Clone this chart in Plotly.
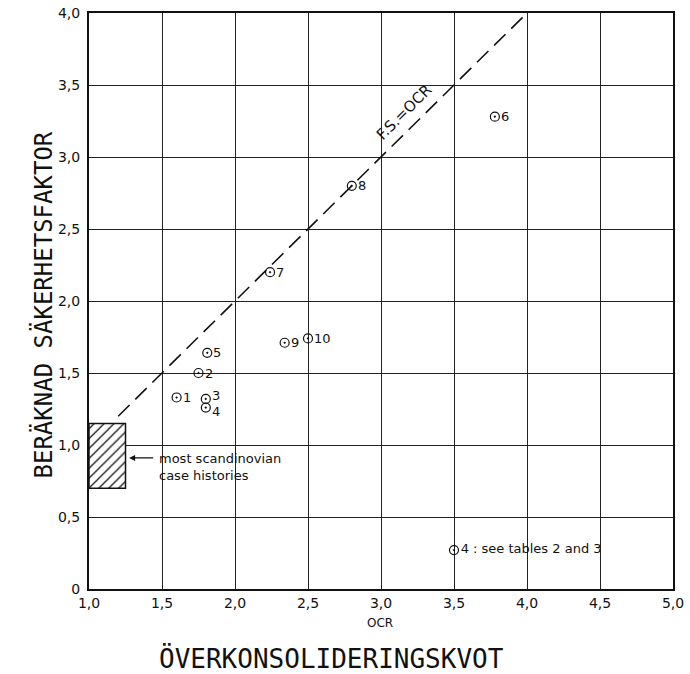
import plotly.graph_objects as go

# data
ocr = [1.6, 1.75, 1.8, 1.8, 1.81, 3.78, 2.24, 2.8, 2.34, 2.5]
fs = [1.33, 1.5, 1.32, 1.26, 1.64, 3.28, 2.2, 2.8, 1.71, 1.74]
labels = ["1", "2", "3", "4", "5", "6", "7", "8", "9", "10"]
line_x = [1.2, 4.0]
line_y = [1.2, 4.0]
box_x = [1.0, 1.25, 1.25, 1.0, 1.0]
box_y = [0.7, 0.7, 1.15, 1.15, 0.7]
legend_pt = [3.5, 0.27]
xticks = [1.0, 1.5, 2.0, 2.5, 3.0, 3.5, 4.0, 4.5, 5.0]
xticktext = ["1,0", "1,5", "2,0", "2,5", "3,0", "3,5", "4,0", "4,5", "5,0"]
yticks = [0, 0.5, 1.0, 1.5, 2.0, 2.5, 3.0, 3.5, 4.0]
yticktext = ["0", "0,5", "1,0", "1,5", "2,0", "2,5", "3,0", "3,5", "4,0"]

tick_font = dict(family="DejaVu Sans", size=14, color="#111")
lab_font = dict(family="DejaVu Sans", size=13, color="#111")
mono = "DejaVu Sans Mono"

fig = go.Figure()

fig.add_trace(go.Scatter(
    x=box_x, y=box_y, mode="lines", fill="toself",
    fillcolor="white",
    fillpattern=dict(shape="/", fgcolor="#111", fgopacity=1, bgcolor="white", size=7, solidity=0.18),
    line=dict(color="#111", width=1.5), hoverinfo="skip", showlegend=False))

fig.add_trace(go.Scatter(
    x=line_x, y=line_y, mode="lines",
    line=dict(color="#111", width=1.6, dash="16px,8px"),
    showlegend=False))

fig.add_trace(go.Scatter(
    x=ocr, y=fs, mode="markers",
    marker=dict(symbol="circle-open-dot", size=9, color="#111", line=dict(width=1.2, color="#111")),
    showlegend=False))

fig.add_trace(go.Scatter(
    x=[legend_pt[0]], y=[legend_pt[1]], mode="markers+text",
    text=["4 : see tables 2 and 3"], textposition="middle right",
    textfont=dict(family="DejaVu Sans", size=13, color="#111"),
    marker=dict(symbol="circle-open-dot", size=9, color="#111", line=dict(width=1.2, color="#111")),
    showlegend=False))

annotations = []
for xv, yv, lab in zip(ocr, fs, labels):
    ys = 0
    if lab == "3":
        ys = 3
    elif lab == "4":
        ys = -4
    annotations.append(dict(x=xv, y=yv, xref="x", yref="y", text=lab, showarrow=False,
                            xanchor="left", yanchor="middle", xshift=4, yshift=ys,
                            font=lab_font))

annotations += [
    dict(x=3.16, y=3.31, xref="x", yref="y", text="F.S.=OCR", showarrow=False,
         textangle=-45, font=dict(family="DejaVu Sans", size=15, color="#111")),
    dict(x=1.275, y=0.91, ax=1.45, ay=0.91, xref="x", yref="y", axref="x", ayref="y",
         text="", showarrow=True, arrowhead=2, arrowsize=1, arrowwidth=1.2, arrowcolor="#111"),
    dict(x=1.465, y=0.85, xref="x", yref="y", text="most scandinovian<br>case histories",
         showarrow=False, xanchor="left", align="left",
         font=dict(family="DejaVu Sans", size=13, color="#111")),
    dict(x=(380 - 89) / 584, y=-(623 - 589) / 576, xref="paper", yref="paper", text="OCR",
         showarrow=False, yanchor="middle", font=dict(family="DejaVu Sans", size=12, color="#111")),
    dict(x=(331 - 89) / 584, y=-(658 - 589) / 576, xref="paper", yref="paper",
         text="ÖVERKONSOLIDERINGSKVOT", showarrow=False, yanchor="middle",
         font=dict(family=mono, size=26, color="#111")),
    dict(x=(26 - 89) / 584, y=(589 - 305) / 576, xref="paper", yref="paper",
         text="BERÄKNAD SÄKERHETSFAKTOR", showarrow=False, textangle=-90,
         font=dict(family=mono, size=24, color="#111")),
]

fig.update_layout(
    width=690, height=674,
    margin=dict(l=89, r=17, t=13, b=85),
    paper_bgcolor="white", plot_bgcolor="white",
    annotations=annotations,
    xaxis=dict(range=[1, 5], tickvals=xticks, ticktext=xticktext, tickfont=tick_font,
               showgrid=True, gridcolor="#222", gridwidth=1, zeroline=False, automargin=False,
               showline=True, mirror=True, linecolor="#111", linewidth=2, ticks=""),
    yaxis=dict(range=[0, 4], tickvals=yticks, ticktext=yticktext, tickfont=tick_font,
               showgrid=True, gridcolor="#222", gridwidth=1, zeroline=False, automargin=False,
               showline=True, mirror=True, linecolor="#111", linewidth=2, ticks="",
               ticklabelstandoff=4),
)

fig.write_html("out.html")
